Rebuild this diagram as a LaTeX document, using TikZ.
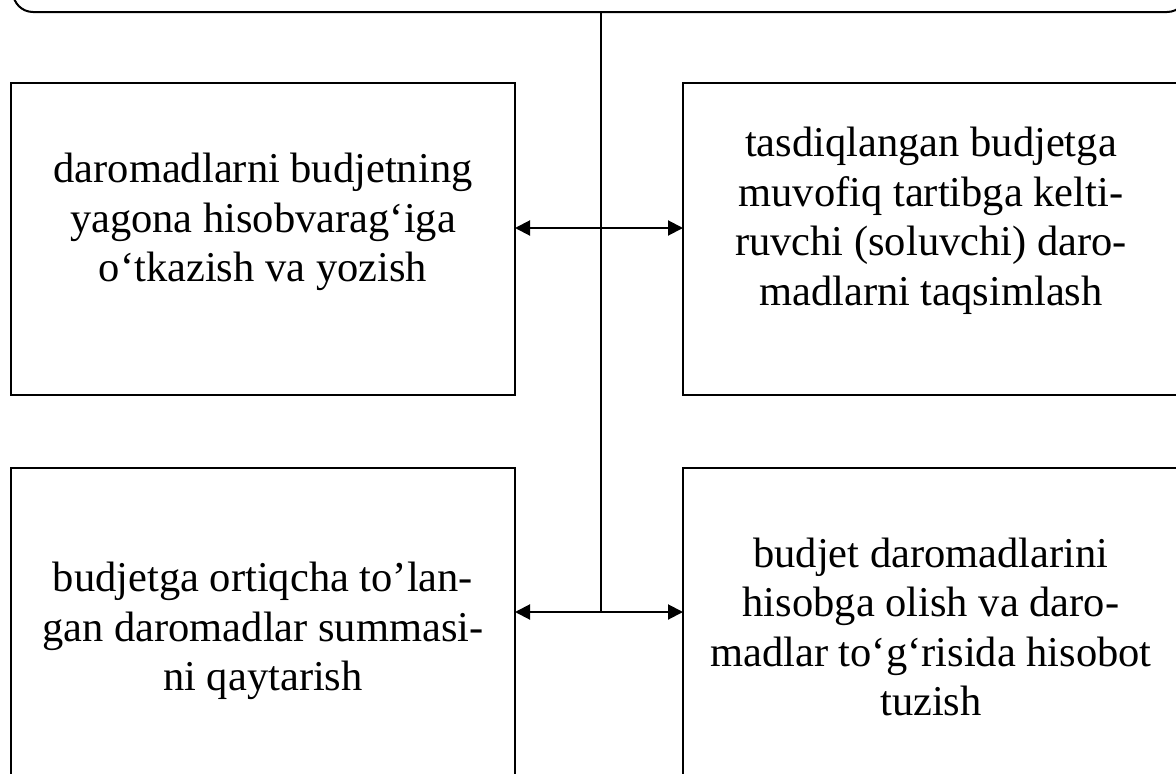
\documentclass[tikz,border=0pt]{standalone}
\usepackage{fontspec}
\setmainfont{Liberation Serif}
\usetikzlibrary{arrows.meta}
\tikzset{
  box/.style={draw, line width=2pt, rectangle, inner sep=0pt, outer sep=0pt},
  label/.style={inner sep=0pt, outer sep=0pt, align=center, font=\fontsize{42.5}{49.5}\selectfont},
  link/.style={line width=1.7pt},
  dblarrow/.style={line width=2pt, {Triangle[length=15pt,width=15pt]}-{Triangle[length=15pt,width=15pt]}}
}
\begin{document}
\begin{tikzpicture}[x=1pt,y=-1pt]
\useasboundingbox (0,0) rectangle (1176,774);
\clip (0,0) rectangle (1176,774);
% top rounded box (cut off at the top)
\node[box, rounded corners=20pt, minimum width=1174pt, minimum height=140pt] (top) at (600,-58) {};
% four boxes
\node[box, minimum width=504pt, minimum height=312pt] (lt) at (263,239) {};
\node[box, minimum width=497pt, minimum height=312pt] (rt) at (931.5,239) {};
\node[box, minimum width=504pt, minimum height=312pt] (lb) at (263,624) {};
\node[box, minimum width=497pt, minimum height=312pt] (rb) at (931.5,624) {};
% texts
\node[label] (tlt) at (263,222) {daromadlarni budjetning\\yagona hisobvarag‘iga\\o‘tkazish va yozish};
\node[label] (trt) at (931,221) {tasdiqlangan budjetga\\muvofiq tartibga kelti-\\ruvchi (soluvchi) daro-\\madlarni taqsimlash};
\node[label] (tlb) at (263,631) {budjetga ortiqcha to’lan-\\gan daromadlar summasi-\\ni qaytarish};
\node[label] (trb) at (931,627) {budjet daromadlarini\\hisobga olish va daro-\\madlar to‘g‘risida hisobot\\tuzish};
% connectors
\coordinate (a1) at (601,228);
\coordinate (a2) at (601,612);
\draw[link] (top.south -| a2) -- (a2);
\draw[dblarrow] (a1 -| lt.east) -- (a1 -| rt.west);
\draw[dblarrow] (a2 -| lb.east) -- (a2 -| rb.west);
\end{tikzpicture}
\end{document}
